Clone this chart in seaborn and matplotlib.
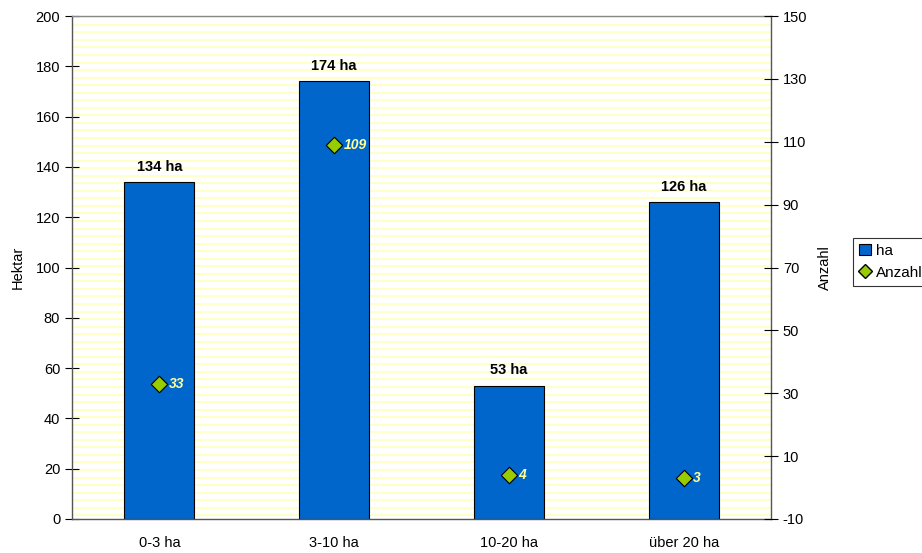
import seaborn as sns
import matplotlib.pyplot as plt
import matplotlib.patches as mpatches
from matplotlib.lines import Line2D
import numpy as np
import pandas as pd

# Daten
kategorien = ["0-3 ha", "3-10 ha", "10-20 ha", "über 20 ha"]
hektar = [134, 174, 53, 126]
anzahl = [33, 109, 4, 3]

BAR_COLOR = '#0066CC'
DIA_COLOR = '#99CC00'
STRIPE_COLOR = '#FFFFC8'

sns.set_style("white")
plt.rcParams['font.family'] = ['Liberation Sans', 'DejaVu Sans']
plt.rcParams['font.size'] = 10
plt.rcParams['axes.unicode_minus'] = False
plt.rcParams['text.color'] = 'black'
plt.rcParams['axes.labelcolor'] = 'black'
plt.rcParams['xtick.color'] = 'black'
plt.rcParams['ytick.color'] = 'black'

df = pd.DataFrame({'kat': kategorien, 'ha': hektar, 'n': anzahl})
df['pos'] = np.arange(len(df))

fig = plt.figure(figsize=(9.22, 5.53), dpi=100)
ax = fig.add_axes([72 / 922, 1 - 519 / 553, (771 - 72) / 922, (519 - 16) / 553])

# gestreifter Hintergrund
for yy in np.arange(1.5, 200, 3.0):
    ax.axhline(yy, color=STRIPE_COLOR, linewidth=1.5, zorder=0)

sns.barplot(data=df, x='pos', y='ha', order=[0, 1, 2, 3], color=BAR_COLOR,
            saturation=1, width=0.4, edgecolor='black', linewidth=0.8,
            native_scale=True, ax=ax, zorder=2)

for x, v in zip(df['pos'], df['ha']):
    ax.annotate(f'{v} ha', xy=(x, v), xytext=(0, 6), textcoords='offset points',
                ha='center', va='bottom', fontweight='bold', fontsize=10.5)

ax.set_xlim(-0.5, 3.5)
ax.set_ylim(0, 200)
ax.set_yticks(np.arange(0, 201, 20))
ax.set_xticks(np.arange(-0.5, 3.6, 1.0))
ax.set_xticklabels([])
ax.set_xticks(df['pos'], minor=True)
ax.set_xticklabels(kategorien, minor=True)
ax.tick_params(axis='x', which='major', direction='out', length=6, color='black')
ax.tick_params(axis='x', which='minor', length=0, pad=12, labelsize=10.5)
ax.tick_params(axis='y', direction='inout', length=10, color='black', labelsize=10.5)
ax.set_xlabel('')
ax.set_ylabel('Hektar', fontsize=10.5, labelpad=8)

for s in ax.spines.values():
    s.set_color('#555555')
    s.set_linewidth(1.0)
ax.spines['top'].set_color('#888888')

ax2 = ax.twinx()
sns.scatterplot(data=df, x='pos', y='n', marker='D', s=70, color=DIA_COLOR,
                edgecolor='black', linewidth=0.8, ax=ax2, zorder=5, legend=False)
for x, v in zip(df['pos'], df['n']):
    ax2.annotate(f'{v}', xy=(x, v), xytext=(7, 0), textcoords='offset points',
                 ha='left', va='center', fontweight='bold', fontstyle='italic',
                 color='#FFFF99', fontsize=10)
ax2.set_ylim(-10, 150)
ax2.set_yticks(np.arange(-10, 151, 20))
ax2.set_xlim(-0.5, 3.5)
ax2.tick_params(axis='y', direction='inout', length=10, color='black', labelsize=10.5)
ax2.set_ylabel('Anzahl', fontsize=10.5, labelpad=8)
ax2.yaxis.set_label_position('right')
for s in ax2.spines.values():
    s.set_visible(False)

handles = [
    mpatches.Patch(facecolor=BAR_COLOR, edgecolor='black', linewidth=0.8, label='ha'),
    Line2D([], [], marker='D', linestyle='none', markerfacecolor=DIA_COLOR,
           markeredgecolor='black', markersize=7, label='Anzahl'),
]
leg = fig.legend(handles=handles, loc='upper left', bbox_to_anchor=(853 / 922, 1 - 238 / 553),
                 frameon=True, fancybox=False, edgecolor='black', fontsize=11,
                 handlelength=0.8, handletextpad=0.3, borderpad=0.4, labelspacing=0.5,
                 borderaxespad=0)
leg.get_frame().set_linewidth(0.8)

fig.savefig('out.png', dpi=100)
